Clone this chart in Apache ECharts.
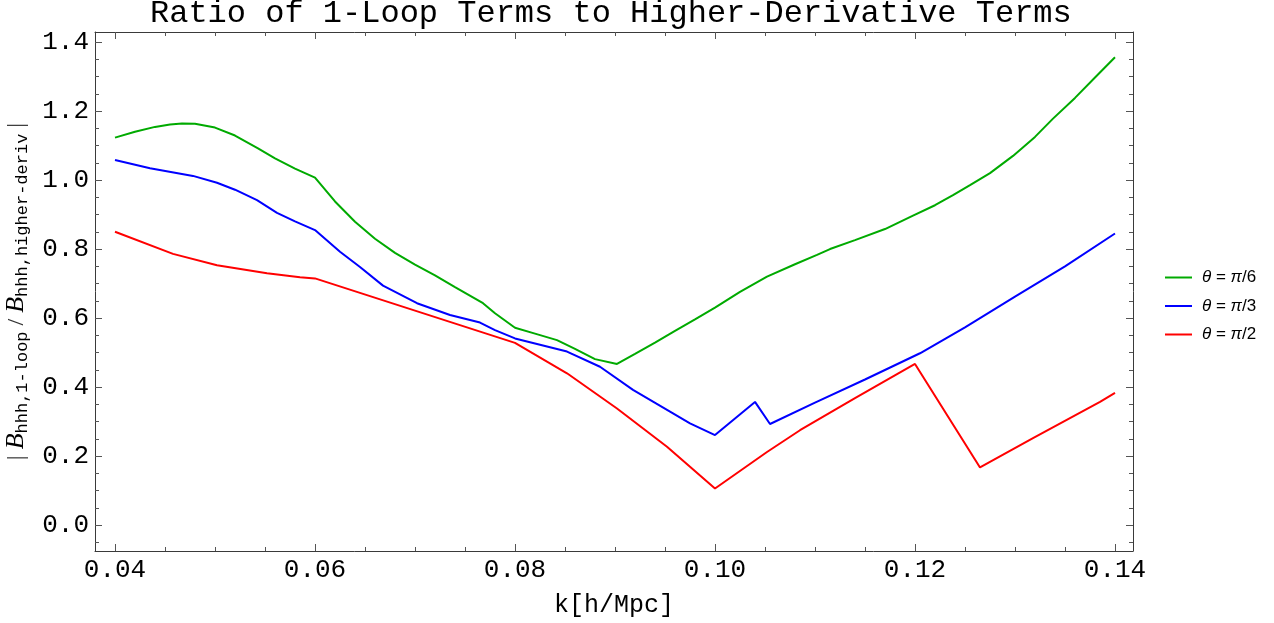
<!DOCTYPE html>
<html><head><meta charset="utf-8">
<script src="https://cdn.jsdelivr.net/npm/echarts@6/dist/echarts.min.js"></script>
<style>html,body{margin:0;padding:0;background:#fff}#c{width:1274px;height:623px}</style>
</head><body><div id="c"></div>
<script>
// θ = π/6
const k_pi6 = [0.040,0.042,0.044,0.0455,0.0467,0.048,0.050,0.052,0.0543,0.056,0.058,0.060,0.062,0.064,0.066,0.068,0.070,0.072,0.074,0.0768,0.078,0.080,0.082,0.0842,0.086,0.088,0.0902,0.092,0.094,0.096,0.098,0.100,0.1025,0.1052,0.108,0.1102,0.1115,0.114,0.117,0.1198,0.122,0.1238,0.1255,0.1275,0.1298,0.132,0.1338,0.136,0.138,0.140];
const ratio_pi6 = [1.123,1.140,1.154,1.161,1.164,1.163,1.152,1.129,1.092,1.063,1.033,1.007,0.938,0.879,0.830,0.789,0.755,0.724,0.690,0.643,0.614,0.572,0.555,0.536,0.511,0.481,0.467,0.496,0.529,0.563,0.596,0.630,0.676,0.720,0.756,0.783,0.800,0.826,0.858,0.897,0.927,0.956,0.985,1.020,1.070,1.125,1.178,1.238,1.297,1.356];
// θ = π/3
const k_pi3 = [0.040,0.0435,0.0478,0.0502,0.052,0.0542,0.0562,0.058,0.060,0.0625,0.0645,0.0668,0.0702,0.0735,0.0765,0.078,0.080,0.0852,0.0885,0.0918,0.0958,0.0975,0.100,0.104,0.1055,0.110,0.115,0.1205,0.125,0.130,0.135,0.140];
const ratio_pi3 = [1.058,1.034,1.012,0.992,0.972,0.942,0.905,0.880,0.855,0.792,0.748,0.694,0.643,0.609,0.587,0.565,0.541,0.503,0.459,0.392,0.324,0.295,0.261,0.357,0.293,0.355,0.422,0.498,0.573,0.662,0.750,0.845];
// θ = π/2
const k_pi2 = [0.040,0.0458,0.0502,0.0552,0.0585,0.060,0.080,0.0852,0.0902,0.0952,0.100,0.1052,0.1085,0.114,0.120,0.1265,0.1318,0.1385,0.140];
const ratio_pi2 = [0.850,0.786,0.753,0.730,0.718,0.715,0.528,0.440,0.338,0.227,0.106,0.212,0.275,0.368,0.467,0.167,0.252,0.357,0.383];

const seriesNames = ['θ = π/6','θ = π/3','θ = π/2'];
const seriesColors = ['#00aa00','#0000ff','#ff0000'];
const xTickLabels = ['0.04','0.06','0.08','0.10','0.12','0.14'];
const yTickLabels = ['0.0','0.2','0.4','0.6','0.8','1.0','1.2','1.4'];

const xMin = 0.038, xMax = 0.1418, yMin = -0.075, yMax = 1.429;
const xMajor = xTickLabels.map(Number);
const yMajor = yTickLabels.map(Number);
const xMinor = []; for (let i = 8; i <= 28; i++) if (i % 4 !== 0) xMinor.push(+(i * 0.005).toFixed(4));
const yMinor = []; for (let i = -1; i <= 28; i++) if (i % 4 !== 0) yMinor.push(+(i * 0.05).toFixed(3));

const mono = 'Liberation Mono, Courier New, monospace';
const frame = '#3a3a3a';

function axis(kind, pos, ticks, len, withLabel, withLine) {
  const o = {
    type: 'value', gridIndex: 0, position: pos,
    min: kind === 'x' ? xMin : yMin, max: kind === 'x' ? xMax : yMax,
    axisLine: { show: withLine, onZero: false, lineStyle: { color: frame, width: 1 } },
    axisTick: { show: true, inside: true, length: len, customValues: ticks, lineStyle: { color: '#555', width: 1 } },
    axisLabel: { show: false },
    splitLine: { show: false }
  };
  if (withLabel) {
    o.axisLabel = {
      show: true, customValues: ticks, margin: 6,
      formatter: v => (kind === 'x' ? v.toFixed(2) : v.toFixed(1)),
      fontFamily: mono, fontSize: 26, color: '#000'
    };
  }
  return o;
}

const xAxes = [
  Object.assign(axis('x', 'bottom', xMajor, 7, true, true), {
    name: 'k[h/Mpc]', nameLocation: 'middle', nameGap: 42,
    nameTextStyle: { fontFamily: mono, fontSize: 25, color: '#000' }
  }),
  axis('x', 'top', xMajor, 7, false, true),
  axis('x', 'bottom', xMinor, 4, false, false),
  axis('x', 'top', xMinor, 4, false, false)
];
const yAxes = [
  Object.assign(axis('y', 'left', yMajor, 7, true, true), {
    name: '{bar|| }{B|B}{sub|hhh,1-loop}{bar| / }{B|B}{sub|hhh,higher-deriv}{bar| |}',
    nameLocation: 'middle', nameRotate: 90, nameGap: 56,
    nameTextStyle: {
      color: '#000',
      rich: {
        bar: { fontFamily: 'Liberation Serif', fontSize: 24, lineHeight: 30, color: '#333' },
        B: { fontFamily: 'Liberation Serif', fontStyle: 'italic', fontSize: 26, lineHeight: 30, color: '#000' },
        sub: { fontFamily: mono, fontSize: 17, lineHeight: 17, verticalAlign: 'bottom', color: '#000' }
      }
    }
  }),
  axis('y', 'right', yMajor, 7, false, true),
  axis('y', 'left', yMinor, 4, false, false),
  axis('y', 'right', yMinor, 4, false, false)
];

const ks = [k_pi6, k_pi3, k_pi2];
const vs = [ratio_pi6, ratio_pi3, ratio_pi2];
const series = seriesNames.map((n, s) => ({
  name: n, type: 'line', xAxisIndex: 0, yAxisIndex: 0,
  data: ks[s].map((k, i) => [k, vs[s][i]]),
  symbol: 'none', showSymbol: false, smooth: false,
  lineStyle: { width: 2, color: seriesColors[s] },
  itemStyle: { color: seriesColors[s] },
  emphasis: { disabled: true }
}));

const chart = echarts.init(document.getElementById('c'), null, { renderer: 'canvas' });
chart.setOption({
  animation: false,
  backgroundColor: '#fff',
  title: {
    text: 'Ratio of 1-Loop Terms to Higher-Derivative Terms',
    left: 150, top: -2, padding: 0,
    textStyle: { fontFamily: mono, fontSize: 32, fontWeight: 'normal', color: '#000' }
  },
  grid: { left: 95, right: 141, top: 32, bottom: 72, containLabel: false, outerBoundsMode: 'none' },
  legend: {
    orient: 'vertical', left: 1165, top: 269, padding: 0,
    icon: 'rect', itemWidth: 27, itemHeight: 2, itemGap: 11.5,
    data: seriesNames,
    formatter: n => n.replace('θ', '{i|θ}').replace('π', '{i|π}'),
    textStyle: {
      fontFamily: 'Liberation Sans', fontSize: 17, lineHeight: 17, color: '#000', padding: [0, 0, 0, 5],
      rich: { i: { fontFamily: 'Liberation Sans', fontStyle: 'italic', fontSize: 17, lineHeight: 17, color: '#000' } }
    }
  },
  xAxis: xAxes,
  yAxis: yAxes,
  series: series
});
</script></body></html>
